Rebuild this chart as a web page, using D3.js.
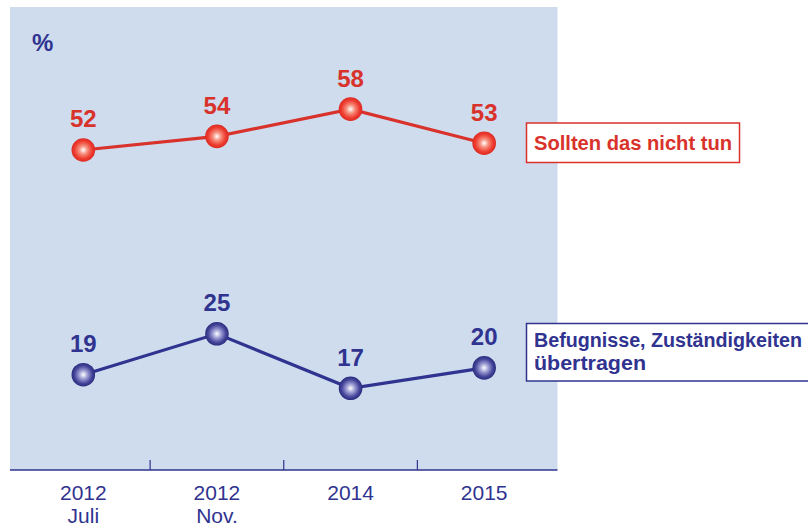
<!DOCTYPE html>
<html><head><meta charset="utf-8">
<script src="https://cdn.jsdelivr.net/npm/d3@7"></script>
<style>body{margin:0;background:#fff}svg{display:block}</style>
</head><body>
<script>
const categories = ["2012 Juli", "2012 Nov.", "2014", "2015"];
const tickLabels = [["2012", "Juli"], ["2012", "Nov."], ["2014"], ["2015"]];
const seriesNames = ["Sollten das nicht tun", "Befugnisse, Zuständigkeiten übertragen"];
const sollten = [52, 54, 58, 53];
const befugnisse = [19, 25, 17, 20];
const unit = "%";

const W = 808, H = 531;
const plot = {left: 10, right: 557.5, top: 7, bottom: 470};
const RED = "#d8322b", BLUE = "#30338f", BG = "#cfdcee";

const svg = d3.select("body").append("svg").attr("width", W).attr("height", H);
const defs = svg.append("defs");
function grad(id, stops) {
  const g = defs.append("radialGradient").attr("id", id).attr("cx", "50%").attr("cy", "50%").attr("r", "50%");
  stops.forEach(s => g.append("stop").attr("offset", s[0]).attr("stop-color", s[1]));
}
grad("gRed", [["0%", "#ffffff"], ["35%", "#f7907e"], ["75%", "#ee3c30"], ["100%", "#dc2b23"]]);
grad("gBlue", [["0%", "#ffffff"], ["35%", "#a0a0d6"], ["75%", "#45459a"], ["100%", "#2b2c7e"]]);

const x = d3.scaleBand().domain(categories).range([16.5, 551]).padding(0);
const y = d3.scaleLinear().domain([5, 73]).range([plot.bottom, plot.top]);
const cx = (i) => x(categories[i]) + x.bandwidth() / 2;

svg.append("rect").attr("x", plot.left).attr("y", plot.top)
  .attr("width", plot.right - plot.left).attr("height", plot.bottom - plot.top).attr("fill", BG);

const ff = "'Liberation Sans', Arial, sans-serif";

// axis
const axisG = svg.append("g").attr("transform", `translate(0,${plot.bottom})`);
axisG.append("line").attr("x1", plot.left).attr("x2", plot.right).attr("y1", 0).attr("y2", 0)
  .attr("stroke", BLUE).attr("stroke-width", 1.5);
axisG.selectAll("line.tick").data(categories.slice(1)).enter().append("line").attr("class", "tick")
  .attr("x1", d => x(d)).attr("x2", d => x(d)).attr("y1", 0).attr("y2", -10)
  .attr("stroke", BLUE).attr("stroke-width", 1.2);
const lbl = axisG.selectAll("text.cat").data(categories).enter().append("text").attr("class", "cat")
  .attr("x", d => x(d) + x.bandwidth() / 2).attr("y", 30)
  .attr("text-anchor", "middle").attr("fill", BLUE)
  .style("font-family", ff).style("font-size", "21px");
lbl.each(function(d, i) {
  tickLabels[i].forEach((t, j) => d3.select(this).append("tspan").attr("x", x(d) + x.bandwidth() / 2)
    .attr("dy", j === 0 ? 0 : 23).text(t));
});

svg.append("text").attr("x", 32).attr("y", 51).attr("fill", BLUE)
  .style("font-family", ff).style("font-size", "24px").style("font-weight", "bold")
  .text(unit);

function series(vals, color, gid) {
  const line = d3.line().x((d, i) => cx(i)).y(d => y(d));
  svg.append("path").datum(vals).attr("d", line).attr("fill", "none")
    .attr("stroke", color).attr("stroke-width", 3.2);
  svg.selectAll(null).data(vals).enter().append("circle")
    .attr("cx", (d, i) => cx(i)).attr("cy", d => y(d)).attr("r", 11.8)
    .attr("fill", `url(#${gid})`);
  svg.selectAll(null).data(vals).enter().append("text")
    .attr("x", (d, i) => cx(i)).attr("y", d => y(d) - 22.5)
    .attr("text-anchor", "middle").attr("fill", color)
    .style("font-family", ff).style("font-size", "24px").style("font-weight", "bold")
    .text(d => d);
}
series(sollten, RED, "gRed");
series(befugnisse, BLUE, "gBlue");

// legend boxes
svg.append("rect").attr("x", 526.5).attr("y", 123).attr("width", 213).attr("height", 39.5)
  .attr("fill", "#fff").attr("stroke", RED).attr("stroke-width", 1.5);
svg.append("text").attr("x", 534).attr("y", 149.5).attr("fill", RED)
  .style("font-family", ff).style("font-size", "20px").style("font-weight", "bold")
  .attr("textLength", 198).attr("lengthAdjust", "spacingAndGlyphs").text(seriesNames[0]);

svg.append("rect").attr("x", 526.5).attr("y", 323.5).attr("width", 290).attr("height", 57.5)
  .attr("fill", "#fff").attr("stroke", BLUE).attr("stroke-width", 1.5);
const words = ["Befugnisse, Zuständigkeiten", "übertragen"];
const lens = [268, 112];
words.forEach((w, i) => {
  svg.append("text").attr("x", 534).attr("y", 346.5 + i * 23).attr("fill", BLUE)
    .style("font-family", ff).style("font-size", "20px").style("font-weight", "bold")
    .attr("textLength", lens[i]).attr("lengthAdjust", "spacingAndGlyphs").text(w);
});
</script>
</body></html>
